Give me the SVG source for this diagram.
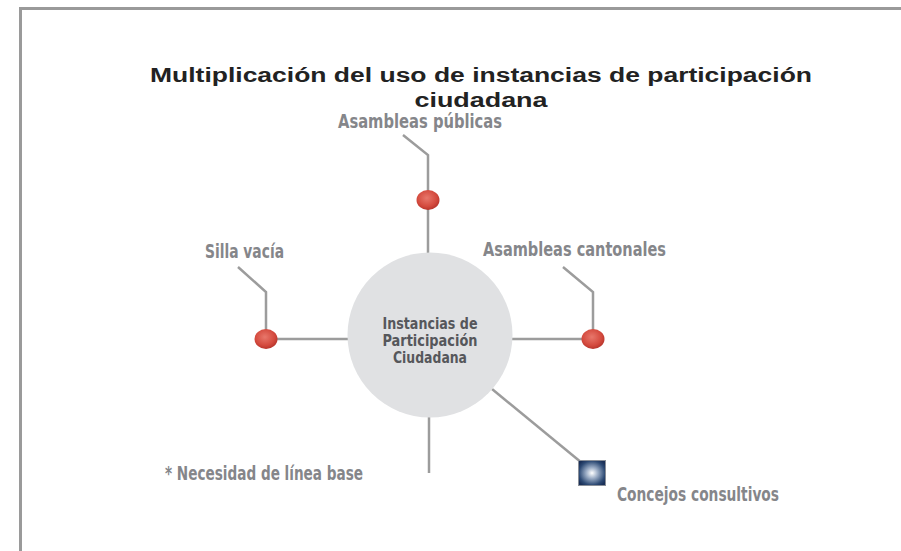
<svg xmlns="http://www.w3.org/2000/svg" width="901" height="551" viewBox="0 0 901 551">
<style>
.frame{fill:none;stroke:#9a9a9a;stroke-width:3}
.conn{fill:none;stroke:#9c9c9c;stroke-width:2.5;stroke-linejoin:miter}
.lbl{font-family:"DejaVu Sans Condensed","DejaVu Sans",sans-serif;font-stretch:condensed;font-weight:bold;font-size:19px;fill:#85868a}
.ctr{font-family:"DejaVu Sans Condensed","DejaVu Sans",sans-serif;font-stretch:condensed;font-weight:bold;font-size:15.5px;fill:#56575b;text-anchor:middle}
.title{font-family:"Liberation Sans",Arial,sans-serif;font-weight:bold;font-size:20px;fill:#222;text-anchor:middle}
</style>
<defs>
<radialGradient id="red" cx="0.45" cy="0.4" r="0.6">
<stop offset="0" stop-color="#e8776b"/>
<stop offset="0.7" stop-color="#d44a3e"/>
<stop offset="1" stop-color="#b8352c"/>
</radialGradient>
<radialGradient id="navy" cx="0.5" cy="0.5" r="0.6">
<stop offset="0" stop-color="#ffffff"/>
<stop offset="0.35" stop-color="#9fb0c8"/>
<stop offset="0.8" stop-color="#2d4a74"/>
<stop offset="1" stop-color="#1a3058"/>
</radialGradient>
</defs>
<rect width="901" height="551" fill="#ffffff"/>
<path class="frame" d="M20.5 551 V8.5 H901"/>
<text class="title" x="481" y="82" textLength="662" lengthAdjust="spacingAndGlyphs">Multiplicación del uso de instancias de participación</text>
<text class="title" x="481" y="107" textLength="133" lengthAdjust="spacingAndGlyphs">ciudadana</text>
<g id="connectors">
<polyline class="conn" points="403,135 428,155 428,254"/>
<polyline class="conn" points="238,267 266,292 266,339 349,339"/>
<polyline class="conn" points="563,267 593,292 593,339 511,339"/>
<line class="conn" x1="429" y1="416" x2="429" y2="473"/>
<line class="conn" x1="492" y1="389" x2="582" y2="463"/>
</g>
<g id="center">
<circle cx="430" cy="335" r="82.5" fill="#e0e1e3"/>
<text class="ctr" x="430" y="329" textLength="95" lengthAdjust="spacingAndGlyphs">Instancias de</text>
<text class="ctr" x="430" y="346" textLength="95" lengthAdjust="spacingAndGlyphs">Participación</text>
<text class="ctr" x="430" y="363" textLength="74" lengthAdjust="spacingAndGlyphs">Ciudadana</text>
</g>
<g id="asambleas-publicas">
<ellipse cx="428" cy="200" rx="11.5" ry="10" fill="url(#red)"/>
<text class="lbl" x="338" y="128" textLength="164" lengthAdjust="spacingAndGlyphs">Asambleas públicas</text>
</g>
<g id="silla-vacia">
<ellipse cx="266" cy="339" rx="11.5" ry="10" fill="url(#red)"/>
<text class="lbl" x="205" y="258" textLength="79" lengthAdjust="spacingAndGlyphs">Silla vacía</text>
</g>
<g id="asambleas-cantonales">
<ellipse cx="593" cy="339" rx="11.5" ry="10" fill="url(#red)"/>
<text class="lbl" x="483" y="256" textLength="183" lengthAdjust="spacingAndGlyphs">Asambleas cantonales</text>
</g>
<g id="concejos-consultivos">
<rect x="578.5" y="460.5" width="27" height="25" fill="url(#navy)" stroke="#8a8f98" stroke-width="1"/>
<text class="lbl" x="617" y="501" textLength="162" lengthAdjust="spacingAndGlyphs">Concejos consultivos</text>
</g>
<g id="nota">
<text class="lbl" x="165" y="480" textLength="198" lengthAdjust="spacingAndGlyphs">* Necesidad de línea base</text>
</g>
</svg>
